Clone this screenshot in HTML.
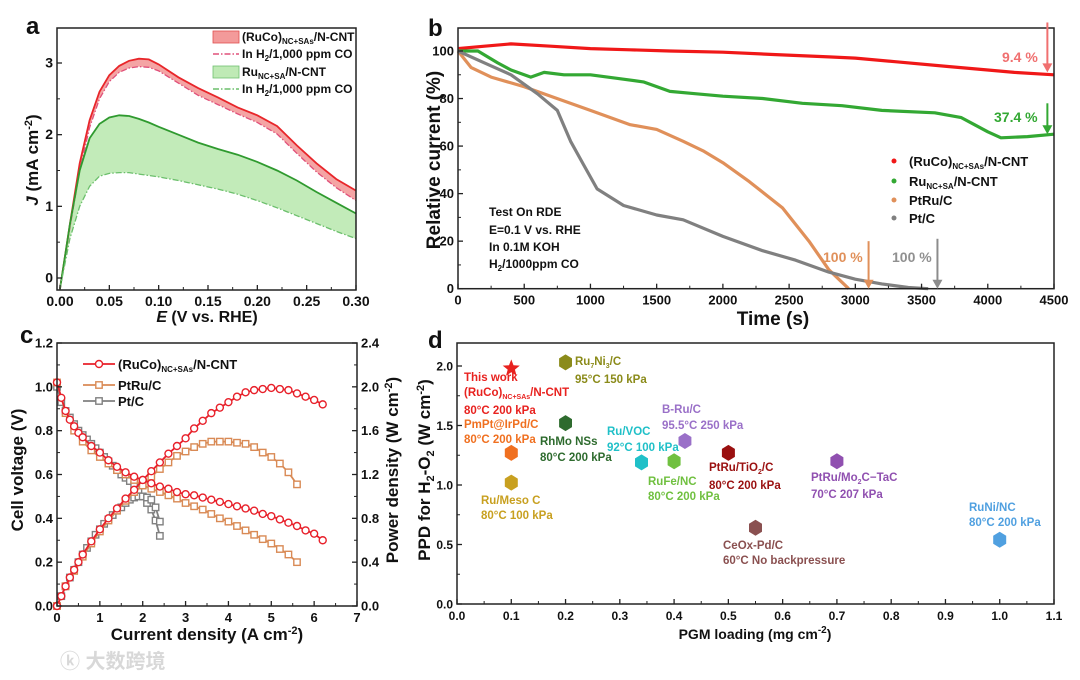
<!DOCTYPE html>
<html><head><meta charset="utf-8"><style>
html,body{margin:0;padding:0;background:#fff;}
svg{display:block;font-family:"Liberation Sans","Noto Sans CJK SC",sans-serif;}
text{font-weight:bold;}
</style></head><body>
<svg id="fig" width="1080" height="680" viewBox="0 0 1080 680" xmlns="http://www.w3.org/2000/svg">
<text x="60" y="668" font-size="20" fill="#d8d8d8" font-weight="normal">ⓚ 大数跨境</text>
</svg>
<script>
// ---------- Panel a data ----------
const aE = [0,0.01,0.02,0.03,0.04,0.05,0.06,0.07,0.08,0.09,0.10,0.12,0.14,0.16,0.18,0.20,0.22,0.24,0.26,0.28,0.30];
const aRed = [-0.15,0.75,1.6,2.2,2.6,2.83,2.96,3.03,3.06,3.05,2.98,2.8,2.65,2.52,2.38,2.27,2.12,1.85,1.6,1.38,1.22];
const aRedCO = [-0.15,0.7,1.5,2.1,2.5,2.74,2.87,2.93,2.95,2.94,2.89,2.72,2.55,2.42,2.29,2.17,2.01,1.74,1.48,1.26,1.08];
const aGreen = [-0.15,0.75,1.5,1.95,2.15,2.24,2.27,2.26,2.22,2.17,2.11,2.0,1.89,1.8,1.72,1.62,1.5,1.36,1.2,1.05,0.9];
const aGreenCO = [-0.15,0.55,1.0,1.28,1.42,1.46,1.47,1.47,1.45,1.43,1.41,1.36,1.3,1.24,1.17,1.08,0.98,0.87,0.76,0.65,0.55];
const aXTicks = ["0.00","0.05","0.10","0.15","0.20","0.25","0.30"];
const aYTicks = ["0","1","2","3"];
// ---------- Panel b data ----------
const bRedT = [0,200,400,700,1000,1300,1600,2000,2400,2800,3000,3300,3700,4000,4200,4500];
const bRedV = [101,102,103,102,101,100.5,100,99.5,98.5,97.5,97,95.5,93.5,92,91,90];
const bGreenT = [0,150,300,400,550,650,800,1000,1200,1400,1600,1800,2000,2300,2600,2900,3200,3600,3800,3900,4000,4100,4300,4500];
const bGreenV = [100,100,95,92,89,91,90,90,88.5,87,83,82,81,80,78,77,75,74,72,69,66,63.5,64,65];
const bOrangeT = [0,100,250,500,700,1000,1300,1500,1700,1850,2000,2200,2450,2650,2800,2950];
const bOrangeV = [100,93,89,85,81,75,69,67,62,58,53,45,34,20,8,0];
const bGrayT = [0,200,400,600,750,850,950,1050,1250,1500,1700,2000,2300,2550,2800,3000,3200,3400,3550];
const bGrayV = [100,95,90,82,75,62,52,42,35,31,29,22,16,12,7,4,2,0.5,0];
const bXTicks = ["0","500","1000","1500","2000","2500","3000","3500","4000","4500"];
const bYTicks = ["0","20","40","60","80","100"];
// ---------- Panel c data ----------
const cRedJ = [0,0.1,0.2,0.3,0.4,0.5,0.6,0.8,1.0,1.2,1.4,1.6,1.8,2.0,2.2,2.4,2.6,2.8,3.0,3.2,3.4,3.6,3.8,4.0,4.2,4.4,4.6,4.8,5.0,5.2,5.4,5.6,5.8,6.0,6.2];
const cRedV = [1.02,0.95,0.89,0.85,0.82,0.79,0.77,0.73,0.70,0.665,0.635,0.61,0.59,0.575,0.56,0.545,0.535,0.52,0.51,0.505,0.495,0.485,0.475,0.465,0.455,0.445,0.435,0.42,0.41,0.395,0.38,0.365,0.345,0.33,0.30];
const cRedP = [0,0.09,0.18,0.26,0.33,0.40,0.47,0.59,0.70,0.80,0.89,0.98,1.06,1.15,1.23,1.31,1.39,1.46,1.53,1.62,1.69,1.76,1.81,1.86,1.91,1.95,1.97,1.98,1.99,1.98,1.97,1.94,1.91,1.88,1.84];
const cOrJ = [0,0.2,0.4,0.6,0.8,1.0,1.2,1.4,1.6,1.8,2.0,2.2,2.4,2.6,2.8,3.0,3.2,3.4,3.6,3.8,4.0,4.2,4.4,4.6,4.8,5.0,5.2,5.4,5.6];
const cOrV = [1.02,0.88,0.80,0.75,0.71,0.68,0.65,0.62,0.60,0.575,0.55,0.535,0.52,0.505,0.49,0.47,0.455,0.44,0.42,0.40,0.385,0.365,0.345,0.325,0.305,0.285,0.26,0.235,0.20];
const cOrP = [0,0.18,0.32,0.45,0.57,0.68,0.78,0.87,0.96,1.04,1.10,1.18,1.25,1.31,1.37,1.41,1.45,1.48,1.50,1.50,1.50,1.49,1.48,1.45,1.40,1.36,1.30,1.22,1.11];
const cGrJ = [0,0.1,0.2,0.3,0.4,0.5,0.6,0.7,0.8,0.9,1.0,1.1,1.2,1.3,1.4,1.5,1.6,1.7,1.8,1.9,2.0,2.1,2.2,2.3,2.4];
const cGrV = [1.0,0.93,0.89,0.86,0.83,0.80,0.78,0.76,0.74,0.72,0.70,0.68,0.66,0.64,0.62,0.60,0.585,0.57,0.55,0.53,0.50,0.47,0.44,0.39,0.32];
const cGrP = [0,0.09,0.18,0.26,0.33,0.40,0.47,0.53,0.59,0.65,0.70,0.75,0.79,0.83,0.87,0.90,0.94,0.97,0.99,1.0,1.0,0.99,0.97,0.9,0.77];
const cXTicks = ["0","1","2","3","4","5","6","7"];
const cYTicks = ["0.0","0.2","0.4","0.6","0.8","1.0","1.2"];
const cY2Ticks = ["0.0","0.4","0.8","1.2","1.6","2.0","2.4"];
// ---------- Panel d data ----------
const dNames = ["This work","Ru7Ni3/C","PmPt@IrPd/C","RhMo NSs","Ru/Meso C","Ru/VOC","B-Ru/C","RuFe/NC","PtRu/TiO2/C","PtRu/Mo2C-TaC","CeOx-Pd/C","RuNi/NC"];
const dLoad = [0.1,0.2,0.1,0.2,0.1,0.34,0.42,0.4,0.5,0.7,0.55,1.0];
const dPPD = [1.98,2.03,1.27,1.52,1.02,1.19,1.37,1.2,1.27,1.2,0.64,0.54];
const dXTicks = ["0.0","0.1","0.2","0.3","0.4","0.5","0.6","0.7","0.8","0.9","1.0","1.1"];
const dYTicks = ["0.0","0.5","1.0","1.5","2.0"];

const NS = "http://www.w3.org/2000/svg";
const svg = document.getElementById('fig');
function el(tag, attrs, parent){
  const e = document.createElementNS(NS, tag);
  for (const k in attrs) e.setAttribute(k, attrs[k]);
  (parent||svg).appendChild(e);
  return e;
}
function txt(x,y,s,size,fill,anchor,parent){
  const t = el('text',{x:x,y:y,'font-size':size,fill:fill||'#111','text-anchor':anchor||'start'},parent);
  t.innerHTML = s;
  return t;
}
function lin(d0,d1,r0,r1){return v=>r0+(v-d0)*(r1-d0===0?0:(r1-r0)/(d1-d0));}
function pathD(xs,ys,sx,sy){return xs.map((x,i)=>(i?'L':'M')+sx(x).toFixed(1)+','+sy(ys[i]).toFixed(1)).join(' ');}
function frame(x0,y0,x1,y1,name){
  const r = el('rect',{x:x0,y:y0,width:x1-x0,height:y1-y0,fill:'none',stroke:'#222','stroke-width':1.5});
  
  
}
function xAxis(ticks,vals,sx,yB,minorVals,size){
  const g = el('g',{});
  
  
  ticks.forEach((s,i)=>{
    const x = sx(vals[i]);
    el('line',{x1:x,x2:x,y1:yB,y2:yB-5,stroke:'#222','stroke-width':1.3},g);
    txt(x,yB+16,s,size||13,'#111','middle',g);
  });
  (minorVals||[]).forEach(v=>{const x=sx(v);el('line',{x1:x,x2:x,y1:yB,y2:yB-3,stroke:'#222','stroke-width':1},g);});
}
function yAxis(ticks,vals,sy,xL,minorVals,size,right){
  const g = el('g',{});
  
  
  const dir = right?-1:1;
  ticks.forEach((s,i)=>{
    const y = sy(vals[i]);
    el('line',{x1:xL,x2:xL+5*dir,y1:y,y2:y,stroke:'#222','stroke-width':1.3},g);
    txt(right?xL+4:xL-4,y+4.5,s,size||13,'#111',right?'start':'end',g);
  });
  (minorVals||[]).forEach(v=>{const y=sy(v);el('line',{x1:xL,x2:xL+3*dir,y1:y,y2:y,stroke:'#222','stroke-width':1},g);});
}
function range(a,b,s){const r=[];for(let v=a;v<=b+1e-9;v+=s)r.push(+v.toFixed(6));return r;}

// ================= Panel a =================
(function(){
  const sx = lin(0,0.30,60,356), sy = lin(0,3,278,63);
  const fillR = el('path',{d:pathD(aE,aRed,sx,sy)+' '+aE.slice().reverse().map((x,i)=>'L'+sx(x)+','+sy(aRedCO[aE.length-1-i])).join(' ')+'Z',fill:'#f39a9a',opacity:0.9});
  
  
  const fillG = el('path',{d:pathD(aE,aGreen,sx,sy)+' '+aE.slice().reverse().map((x,i)=>'L'+sx(x)+','+sy(aGreenCO[aE.length-1-i])).join(' ')+'Z',fill:'#bfeab5',opacity:0.95});
  
  
  const l1 = el('path',{d:pathD(aE,aRed,sx,sy),fill:'none',stroke:'#e8262a','stroke-width':1.8});
  
  
  const l2 = el('path',{d:pathD(aE,aRedCO,sx,sy),fill:'none',stroke:'#e0507a','stroke-width':1.3,'stroke-dasharray':'6 2 1.5 2'});
  
  
  const l3 = el('path',{d:pathD(aE,aGreen,sx,sy),fill:'none',stroke:'#2f9a2f','stroke-width':1.8});
  
  
  const l4 = el('path',{d:pathD(aE,aGreenCO,sx,sy),fill:'none',stroke:'#6cbf6c','stroke-width':1.3,'stroke-dasharray':'6 2 1.5 2'});
  
  
  frame(57,28,356,290,'panel-a-frame');
  xAxis(aXTicks,aXTicks.map(Number),sx,290,range(0.025,0.275,0.05),14);
  yAxis(aYTicks,aYTicks.map(Number),sy,57,[0.5,1.5,2.5],14);
  const t1 = txt(207,322,'<tspan font-style="italic">E</tspan> (V vs. RHE)',16,'#111','middle'); 
  const t2 = txt(0,0,'<tspan font-style="italic">J</tspan> (mA cm<tspan dy="-6" font-size="11">-2</tspan><tspan dy="6">)</tspan>',17,'#111','middle');
  t2.setAttribute('transform','translate(38,160) rotate(-90)');
  
  const pl = txt(26,34,'a',24,'#111'); 
  // legend
  const lg = el('g',{});  
  el('rect',{x:213,y:31,width:26,height:12,fill:'#f39a9a',stroke:'#e05050','stroke-width':0.8},lg);
  txt(242,41,'(RuCo)<tspan font-size="8" dy="3">NC+SAs</tspan><tspan dy="-3">/N-CNT</tspan>',12,'#111','start',lg);
  el('line',{x1:213,x2:239,y1:54,y2:54,stroke:'#e0507a','stroke-width':1.4,'stroke-dasharray':'6 2 1.5 2'},lg);
  txt(242,58,'In H<tspan font-size="8" dy="3">2</tspan><tspan dy="-3">/1,000 ppm CO</tspan>',12,'#111','start',lg);
  el('rect',{x:213,y:66,width:26,height:12,fill:'#bfeab5',stroke:'#70c070','stroke-width':0.8},lg);
  txt(242,76,'Ru<tspan font-size="8" dy="3">NC+SA</tspan><tspan dy="-3">/N-CNT</tspan>',12,'#111','start',lg);
  el('line',{x1:213,x2:239,y1:89,y2:89,stroke:'#6cbf6c','stroke-width':1.4,'stroke-dasharray':'6 2 1.5 2'},lg);
  txt(242,93,'In H<tspan font-size="8" dy="3">2</tspan><tspan dy="-3">/1,000 ppm CO</tspan>',12,'#111','start',lg);
})();

// ================= Panel b =================
(function(){
  const sx = lin(0,4500,458,1054), sy = lin(0,100,288.7,51);
  const series = [[bRedT,bRedV,'#f01818','red-series'],[bGreenT,bGreenV,'#33a833','green-series'],[bOrangeT,bOrangeV,'#e0905a','orange-series'],[bGrayT,bGrayV,'#808080','gray-series']];
  series.forEach(s=>{
    const p = el('path',{d:pathD(s[0],s[1],sx,sy),fill:'none',stroke:s[2],'stroke-width':3.2,'stroke-linejoin':'round'});
    
    
  });
  frame(458,28,1054,288.7,'panel-b-frame');
  xAxis(bXTicks,bXTicks.map(Number),sx,288.7,range(250,4250,500),13);
  yAxis(bYTicks,bYTicks.map(Number),sy,458,range(10,90,20),13);
  const t1 = txt(773,325,'Time (s)',19,'#111','middle'); 
  const t2 = txt(0,0,'Relative current (%)',19,'#111','middle');
  t2.setAttribute('transform','translate(440,160) rotate(-90)');
  
  const pl = txt(428,36,'b',24,'#111'); 
  // arrows
  function arrow(t,v0,v1,c,name){
    const g = el('g',{});  
    const x = sx(t), y0 = sy(v0), y1 = sy(v1);
    el('line',{x1:x,x2:x,y1:y0,y2:y1-6,stroke:c,'stroke-width':2},g);
    el('path',{d:`M${x-5},${y1-9} L${x+5},${y1-9} L${x},${y1} Z`,fill:c},g);
  }
  arrow(4450,112,91,'#f07070','arrow-ruco');
  arrow(4450,78,65,'#33a833','arrow-ru');
  arrow(3100,20,0,'#e0905a','arrow-ptru');
  arrow(3620,21,0,'#8c8c8c','arrow-pt');
  txt(1002,62,'9.4 %',14,'#f07070','start');
  txt(994,122,'37.4 %',14,'#33a833','start');
  txt(823,262,'100 %',14,'#e0905a','start');
  txt(892,262,'100 %',14,'#909090','start');
  const ann = el('g',{});  
  txt(489,216,'Test On RDE',12,'#111','start',ann);
  txt(489,234,'E=0.1 V vs. RHE',12,'#111','start',ann);
  txt(489,251,'In 0.1M KOH',12,'#111','start',ann);
  txt(489,268,'H<tspan font-size="8" dy="3">2</tspan><tspan dy="-3">/1000ppm CO</tspan>',12,'#111','start',ann);
  const lg = el('g',{});  
  const lgi = [['#f01818','(RuCo)<tspan font-size="8" dy="3">NC+SAs</tspan><tspan dy="-3">/N-CNT</tspan>',161],['#33a833','Ru<tspan font-size="8" dy="3">NC+SA</tspan><tspan dy="-3">/N-CNT</tspan>',181],['#e0905a','PtRu/C',200],['#808080','Pt/C',218]];
  lgi.forEach(it=>{ el('circle',{cx:894,cy:it[2],r:2.5,fill:it[0]},lg); txt(909,it[2]+5,it[1],13,'#111','start',lg); });
})();

// ================= Panel c =================
(function(){
  const sx = lin(0,7,57,357), sy = lin(0,1.2,606,343), sy2 = lin(0,2.4,606,343);
  function series(J,Y,s,c,shape,name){
    const g = el('g',{});  
    el('path',{d:pathD(J,Y,sx,s),fill:'none',stroke:c,'stroke-width':1.8},g);
    J.forEach((j,i)=>{
      const x=sx(j), y=s(Y[i]);
      if(shape==='c') el('circle',{cx:x,cy:y,r:3.5,fill:'#fff',stroke:c,'stroke-width':1.4},g);
      else el('rect',{x:x-3.2,y:y-3.2,width:6.4,height:6.4,fill:'#fff',stroke:c,'stroke-width':1.4},g);
    });
  }
  series(cGrJ,cGrV,sy,'#808080','s','pt-voltage');
  series(cGrJ,cGrP,sy2,'#808080','s','pt-power');
  series(cOrJ,cOrV,sy,'#d98a55','s','ptru-voltage');
  series(cOrJ,cOrP,sy2,'#d98a55','s','ptru-power');
  series(cRedJ,cRedV,sy,'#e8202a','c','ruco-voltage');
  series(cRedJ,cRedP,sy2,'#e8202a','c','ruco-power');
  frame(57,343,357,606,'panel-c-frame');
  xAxis(cXTicks,cXTicks.map(Number),sx,606,range(0.5,6.5,1),13);
  yAxis(cYTicks,cYTicks.map(Number),sy,57,range(0.1,1.1,0.2),13);
  yAxis(cY2Ticks,cY2Ticks.map(Number),sy2,357,range(0.2,2.2,0.4),13,true);
  const t1 = txt(207,640,'Current density (A cm<tspan dy="-6" font-size="11">-2</tspan><tspan dy="6">)</tspan>',17,'#111','middle'); 
  const t2 = txt(0,0,'Cell voltage (V)',17,'#111','middle');
  t2.setAttribute('transform','translate(23,470) rotate(-90)');
  
  const t3 = txt(0,0,'Power density (W cm<tspan dy="-6" font-size="11">-2</tspan><tspan dy="6">)</tspan>',17,'#111','middle');
  t3.setAttribute('transform','translate(398,470) rotate(-90)');
  
  const pl = txt(20,343,'c',24,'#111'); 
  const lg = el('g',{});  
  const items = [['#e8202a','c','(RuCo)<tspan font-size="8" dy="3">NC+SAs</tspan><tspan dy="-3">/N-CNT</tspan>',364],['#d98a55','s','PtRu/C',385],['#808080','s','Pt/C',401]];
  items.forEach(it=>{
    el('line',{x1:83,x2:115,y1:it[3],y2:it[3],stroke:it[0],'stroke-width':1.8},lg);
    if(it[1]==='c') el('circle',{cx:99,cy:it[3],r:3.5,fill:'#fff',stroke:it[0],'stroke-width':1.4},lg);
    else el('rect',{x:95.8,y:it[3]-3.2,width:6.4,height:6.4,fill:'#fff',stroke:it[0],'stroke-width':1.4},lg);
    txt(118,it[3]+5,it[2],13,'#111','start',lg);
  });
})();

// ================= Panel d =================
(function(){
  const sx = lin(0,1.1,457,1054), sy = lin(0,2.0,604,366);
  const colors = ['#e8221f','#8b8b1a','#f07020','#2e6b2e','#c8a020','#20c0c8','#9a70c8','#70c040','#9a1010','#9050b0','#8a5050','#50a0e0'];
  const labels = [
    [[464,381,'This work'],[464,396,'(RuCo)<tspan font-size="7" dy="3">NC+SAs</tspan><tspan dy="-3">/N-CNT</tspan>'],[464,414,'80°C 200 kPa']],
    [[575,365,'Ru<tspan font-size="7" dy="3">7</tspan><tspan dy="-3">Ni</tspan><tspan font-size="7" dy="3">3</tspan><tspan dy="-3">/C</tspan>'],[575,383,'95°C 150 kPa']],
    [[464,428,'PmPt@IrPd/C'],[464,443,'80°C 200 kPa']],
    [[540,445,'RhMo NSs'],[540,461,'80°C 200 kPa']],
    [[481,504,'Ru/Meso C'],[481,519,'80°C 100 kPa']],
    [[607,435,'Ru/VOC'],[607,451,'92°C 100 kPa']],
    [[662,413,'B-Ru/C'],[662,429,'95.5°C 250 kPa']],
    [[648,485,'RuFe/NC'],[648,500,'80°C 200 kPa']],
    [[709,471,'PtRu/TiO<tspan font-size="7" dy="3">2</tspan><tspan dy="-3">/C</tspan>'],[709,489,'80°C 200 kPa']],
    [[811,481,'PtRu/Mo<tspan font-size="7" dy="3">2</tspan><tspan dy="-3">C−TaC</tspan>'],[811,498,'70°C 207 kPa']],
    [[723,549,'CeOx-Pd/C'],[723,564,'60°C No backpressure']],
    [[969,511,'RuNi/NC'],[969,526,'80°C 200 kPa']]
  ];
  dNames.forEach((n,i)=>{
    const g = el('g',{});
    
    
    const x = sx(dLoad[i]), y = sy(dPPD[i]);
    if(i===0){
      const r1=9,r2=3.8; let d='';
      for(let k=0;k<10;k++){const a=-Math.PI/2+k*Math.PI/5, r=k%2?r2:r1; d+=(k?'L':'M')+(x+r*Math.cos(a)).toFixed(1)+','+(y+r*Math.sin(a)).toFixed(1);}
      el('path',{d:d+'Z',fill:colors[i]},g);
    } else {
      let d='';
      for(let k=0;k<6;k++){const a=-Math.PI/2+k*Math.PI/3; d+=(k?'L':'M')+(x+7.5*Math.cos(a)).toFixed(1)+','+(y+8*Math.sin(a)).toFixed(1);}
      el('path',{d:d+'Z',fill:colors[i]},g);
    }
    labels[i].forEach(l=>txt(l[0],l[1],l[2],11.5,colors[i],'start',g));
  });
  frame(457,343,1054,604,'panel-d-frame');
  xAxis(dXTicks,dXTicks.map(Number),sx,604,range(0.05,1.05,0.1),12);
  yAxis(dYTicks,dYTicks.map(Number),sy,457,range(0.25,2.0,0.5),12);
  const t1 = txt(755,639,'PGM loading (mg cm<tspan dy="-6" font-size="10">-2</tspan><tspan dy="6">)</tspan>',14,'#111','middle'); 
  const t2 = txt(0,0,'PPD for H<tspan font-size="11" dy="4">2</tspan><tspan dy="-4">-O</tspan><tspan font-size="11" dy="4">2</tspan><tspan dy="-4"> (W cm</tspan><tspan dy="-6" font-size="11">-2</tspan><tspan dy="6">)</tspan>',17,'#111','middle');
  t2.setAttribute('transform','translate(430,470) rotate(-90)');
  
  const pl = txt(428,348,'d',24,'#111'); 
})();
</script>
</body></html>
